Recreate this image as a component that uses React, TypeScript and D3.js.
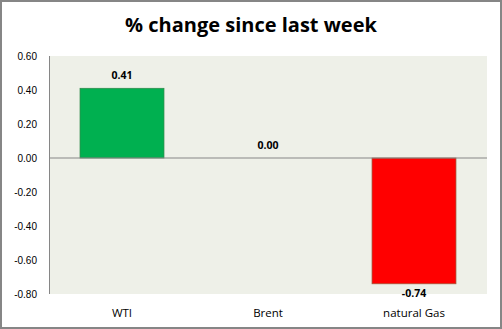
import React from "react";
import * as d3 from "d3";

const categories = ["WTI", "Brent", "natural Gas"];
const values = [0.41, 0.0, -0.74];
const yTicks = [0.6, 0.4, 0.2, 0.0, -0.2, -0.4, -0.6, -0.8];
const title = "% change since last week";

const W = 502;
const H = 329;
const plot = { left: 49, right: 487, top: 56, bottom: 294 };

export default function App() {
  const y = d3.scaleLinear().domain([-0.8, 0.6]).range([plot.bottom, plot.top]);
  const x = d3
    .scaleBand<string>()
    .domain(categories)
    .range([plot.left, plot.right])
    .paddingInner(0.425)
    .paddingOuter(0.2125);
  const fills = values.map((v) => (v >= 0 ? "#00B050" : "#FF0000"));
  const strokes = values.map((v) => (v >= 0 ? "#2E8B4A" : "#9C5A3C"));
  return (
    <svg
      width={W}
      height={H}
      style={{ position: "absolute", left: 0, top: 0, display: "block" }}
    >
      <rect x={0} y={0} width={W} height={H} fill="#ffffff" />
      <rect x={1} y={1} width={W - 2} height={H - 2} fill="none" stroke="#868686" strokeWidth={2} />
      <text
        x={W / 2}
        y={32}
        textAnchor="middle"
        fontFamily="'Open Sans', sans-serif"
        fontWeight="bold"
        fontSize={20}
        fill="#000"
      >
        {title}
      </text>
      <rect
        x={plot.left}
        y={plot.top}
        width={plot.right - plot.left}
        height={plot.bottom - plot.top}
        fill="#EEF0E8"
      />
      {yTicks.map((t) => (
        <text
          key={t}
          x={37}
          y={y(t)}
          dy="0.35em"
          textAnchor="end"
          fontFamily="'Liberation Sans', Arial, sans-serif"
          fontSize={10}
          fill="#000"
        >
          {t.toFixed(2)}
        </text>
      ))}
      {categories.map((c, i) => {
        const v = values[i];
        const y0 = y(0);
        const y1 = y(v);
        const top = Math.min(y0, y1);
        const h = Math.abs(y1 - y0);
        const cx = (x(c) as number) + x.bandwidth() / 2;
        return (
          <g key={c}>
            {h > 0 && (
              <rect
                x={x(c)}
                y={top}
                width={x.bandwidth()}
                height={h}
                fill={fills[i]}
                stroke={strokes[i]}
                strokeWidth={0.75}
              />
            )}
            <text
              x={cx}
              y={v >= 0 ? y1 - 9 : y1 + 13}
              textAnchor="middle"
              fontFamily="'Open Sans', sans-serif"
              fontWeight="bold"
              fontSize={10.5}
              fill="#000"
            >
              {v.toFixed(2)}
            </text>
            <text
              x={cx}
              y={317}
              textAnchor="middle"
              fontFamily="'Open Sans', sans-serif"
              fontSize={11.5}
              fill="#000"
            >
              {c}
            </text>
          </g>
        );
      })}
      <line x1={plot.left} x2={plot.right} y1={y(0)} y2={y(0)} stroke="#868686" strokeWidth={1} />
      <line x1={plot.left + 0.5} x2={plot.left + 0.5} y1={plot.top} y2={plot.bottom} stroke="#868686" strokeWidth={1} />
    </svg>
  );
}
